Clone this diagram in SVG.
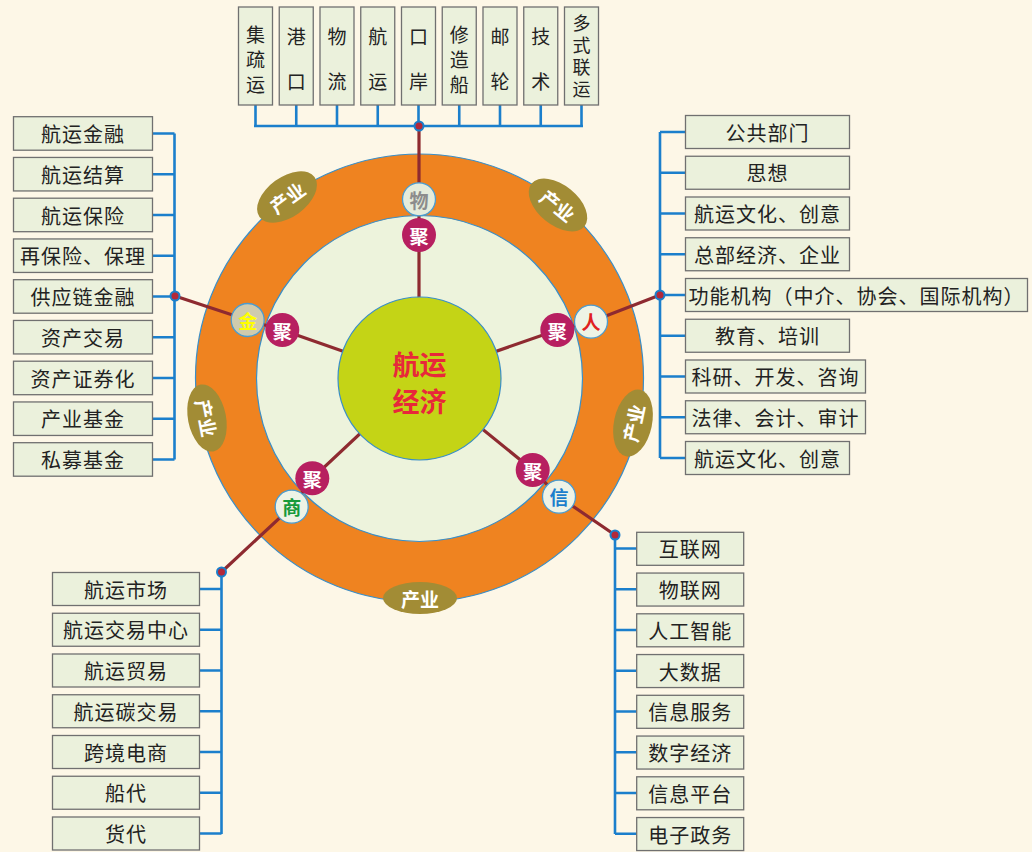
<svg xmlns="http://www.w3.org/2000/svg" width="1032" height="852" viewBox="0 0 1032 852">
<style>
text{font-family:"Noto Sans CJK SC","Noto Sans CJK JP",sans-serif;}
.box{fill:#ebf1dc;stroke:#707070;stroke-width:1.3;}
.bt{font-size:20px;fill:#222;text-anchor:middle;dominant-baseline:central;letter-spacing:1px;}
.vt{font-size:19px;fill:#222;text-anchor:middle;dominant-baseline:central;}
.vm{font-size:18px;fill:#222;writing-mode:vertical-rl;text-anchor:middle;dominant-baseline:central;letter-spacing:4px;}
.blue{stroke:#1b7fcc;stroke-width:2.6;fill:none;}
.red{stroke:#8e2a30;stroke-width:3.2;fill:none;}
.dot{fill:#b3283a;stroke:#1b7fcc;stroke-width:2;}
.ju{fill:#b71f60;}
.jut{font-size:19px;font-weight:bold;fill:#fff;text-anchor:middle;dominant-baseline:central;}
.sc{stroke:#4a9cd0;stroke-width:1.3;}
.sct{font-size:19px;font-weight:bold;text-anchor:middle;dominant-baseline:central;}
.cy{fill:#a28c35;}
.cyt{font-size:19px;font-weight:bold;fill:#fff;text-anchor:middle;dominant-baseline:central;}
.ct{font-size:27px;font-weight:bold;fill:#e8283a;text-anchor:middle;dominant-baseline:central;}
</style>
<rect x="0" y="0" width="1032" height="852" fill="#fdf7e7"/>

<g id="rings">
<circle cx="419.5" cy="378" r="224" fill="#ef8320" stroke="#3a8fc8" stroke-width="1.2"/>
<g transform="translate(287,197) rotate(-36)"><ellipse class="cy" rx="34" ry="20"/><text class="cyt" x="0" y="0">产业</text></g>
<g transform="translate(558,205) rotate(39)"><ellipse class="cy" rx="34" ry="20"/><text class="cyt" x="0" y="0">产业</text></g>
<g transform="translate(207,418) rotate(79)"><ellipse class="cy" rx="34" ry="19"/><text class="cyt" x="0" y="0">产业</text></g>
<g transform="translate(633,423) rotate(-78)"><ellipse class="cy" rx="34" ry="19"/><text class="cyt" x="0" y="0">产业</text></g>
<g transform="translate(420,598)"><ellipse class="cy" rx="37" ry="16"/><text class="cyt" x="0" y="0">产业</text></g>
<circle cx="419.5" cy="378.5" r="163" fill="#edf3dc" stroke="#3a8fc8" stroke-width="1.2"/>
</g>

<g id="connectors">
<path class="blue" d="M255.5,105V126M296.25,105V126M337,105V126M377.75,105V126M418.5,105V126M459.25,105V126M500,105V126M540.75,105V126M581.5,105V126M254,126H583"/>
<path class="blue" d="M174.5,133.5V459.5M152.5,133.5H174.5M152.5,174.25H174.5M152.5,215H174.5M152.5,255.75H174.5M152.5,296.5H174.5M152.5,337.25H174.5M152.5,378H174.5M152.5,418.75H174.5M152.5,459.5H174.5"/>
<path class="blue" d="M660,132V458M660,132H685.5M660,172.75H685.5M660,213.5H685.5M660,254.25H685.5M660,295H685.5M660,335.75H685.5M660,376.5H685.5M660,417.25H685.5M660,458H685.5"/>
<path class="blue" d="M221.5,572V834M199.5,589H221.5M199.5,629.75H221.5M199.5,670.5H221.5M199.5,711.25H221.5M199.5,752H221.5M199.5,792.75H221.5M199.5,833.5H221.5"/>
<path class="blue" d="M615,535V834M615,548.5H636.7M615,589.25H636.7M615,630H636.7M615,670.75H636.7M615,711.5H636.7M615,752.25H636.7M615,793H636.7M615,833.75H636.7"/>
<path class="red" d="M419,126V378"/>
<path class="red" d="M175,296L247.7,320L282.3,330L419.5,378"/>
<path class="red" d="M660,295L591,321.7L557.3,330L419.5,378"/>
<path class="red" d="M615,535L559,496.7L532.7,470L419.5,378"/>
<path class="red" d="M221.5,572L291.7,506.7L312.3,478.3L419.5,378"/>
<circle class="dot" cx="419" cy="126" r="4.5"/>
<circle class="dot" cx="175" cy="296" r="4.5"/>
<circle class="dot" cx="660" cy="295" r="4.5"/>
<circle class="dot" cx="221.5" cy="572" r="4.5"/>
<circle class="dot" cx="615" cy="535" r="4.5"/>
</g>

<g id="center">
<circle cx="419.5" cy="378.5" r="81.5" fill="#c4d416" stroke="#3a8fc8" stroke-width="1.2"/>
<text class="ct" x="419.5" y="363">航运</text>
<text class="ct" x="419.5" y="400">经济</text>
</g>

<g id="ju-nodes">
<circle class="ju" cx="419" cy="235" r="17"/><text class="jut" x="419" y="235">聚</text>
<circle class="ju" cx="282.3" cy="330" r="17"/><text class="jut" x="282.3" y="330">聚</text>
<circle class="ju" cx="557.3" cy="330" r="17"/><text class="jut" x="557.3" y="330">聚</text>
<circle class="ju" cx="312.3" cy="478.3" r="17"/><text class="jut" x="312.3" y="478.3">聚</text>
<circle class="ju" cx="532.7" cy="470" r="17"/><text class="jut" x="532.7" y="470">聚</text>
</g>
<g id="wu"><circle class="sc" cx="419" cy="199.3" r="16.5" fill="#e5ecdb"/><text class="sct" x="419" y="199.3" fill="#8c8c8c">物</text></g>
<g id="jin"><circle class="sc" cx="247.7" cy="320" r="16.5" fill="#cfcbae"/><text class="sct" x="247.7" y="320" fill="#ffff00">金</text></g>
<g id="ren"><circle class="sc" cx="591" cy="321.7" r="16.5" fill="#eef3e6"/><text class="sct" x="591" y="321.7" fill="#e02020">人</text></g>
<g id="shang"><circle class="sc" cx="291.7" cy="506.7" r="16.5" fill="#eef3e6"/><text class="sct" x="291.7" y="506.7" fill="#179a3a">商</text></g>
<g id="xin"><circle class="sc" cx="559" cy="496.7" r="16.5" fill="#eef3e6"/><text class="sct" x="559" y="496.7" fill="#1b7fcc">信</text></g>

<g id="top-boxes">
<rect class="box" x="238.5" y="7" width="34" height="98"/><text class="vt" x="255.5" y="33">集</text><text class="vt" x="255.5" y="58">疏</text><text class="vt" x="255.5" y="83">运</text>
<rect class="box" x="279.25" y="7" width="34" height="98"/><text class="vt" x="296.25" y="35">港</text><text class="vt" x="296.25" y="80">口</text>
<rect class="box" x="320" y="7" width="34" height="98"/><text class="vt" x="337" y="35">物</text><text class="vt" x="337" y="80">流</text>
<rect class="box" x="360.75" y="7" width="34" height="98"/><text class="vt" x="377.75" y="35">航</text><text class="vt" x="377.75" y="80">运</text>
<rect class="box" x="401.5" y="7" width="34" height="98"/><text class="vt" x="418.5" y="35">口</text><text class="vt" x="418.5" y="80">岸</text>
<rect class="box" x="442.25" y="7" width="34" height="98"/><text class="vt" x="459.25" y="33">修</text><text class="vt" x="459.25" y="58">造</text><text class="vt" x="459.25" y="83">船</text>
<rect class="box" x="483" y="7" width="34" height="98"/><text class="vt" x="500" y="35">邮</text><text class="vt" x="500" y="80">轮</text>
<rect class="box" x="523.75" y="7" width="34" height="98"/><text class="vt" x="540.75" y="35">技</text><text class="vt" x="540.75" y="80">术</text>
<rect class="box" x="564.5" y="7" width="34" height="98"/><text class="vm" x="581.5" y="58">多式联运</text>
</g>

<g id="left-boxes">
<rect class="box" x="13.5" y="116.7" width="139" height="33.5"/><text class="bt" x="83" y="133.5">航运金融</text>
<rect class="box" x="13.5" y="157.45" width="139" height="33.5"/><text class="bt" x="83" y="174.25">航运结算</text>
<rect class="box" x="13.5" y="198.2" width="139" height="33.5"/><text class="bt" x="83" y="215">航运保险</text>
<rect class="box" x="13.5" y="238.95" width="139" height="33.5"/><text class="bt" x="83" y="255.75">再保险、保理</text>
<rect class="box" x="13.5" y="279.7" width="139" height="33.5"/><text class="bt" x="83" y="296.5">供应链金融</text>
<rect class="box" x="13.5" y="320.45" width="139" height="33.5"/><text class="bt" x="83" y="337.25">资产交易</text>
<rect class="box" x="13.5" y="361.2" width="139" height="33.5"/><text class="bt" x="83" y="378">资产证券化</text>
<rect class="box" x="13.5" y="401.95" width="139" height="33.5"/><text class="bt" x="83" y="418.75">产业基金</text>
<rect class="box" x="13.5" y="442.7" width="139" height="33.5"/><text class="bt" x="83" y="459.5">私募基金</text>
</g>

<g id="right-boxes">
<rect class="box" x="685.5" y="115.5" width="164" height="33"/><text class="bt" x="767.5" y="132">公共部门</text>
<rect class="box" x="685.5" y="156.25" width="164" height="33"/><text class="bt" x="767.5" y="172.75">思想</text>
<rect class="box" x="685.5" y="197" width="164" height="33"/><text class="bt" x="767.5" y="213.5">航运文化、创意</text>
<rect class="box" x="685.5" y="237.75" width="164" height="33"/><text class="bt" x="767.5" y="254.25">总部经济、企业</text>
<rect class="box" x="685.5" y="278.5" width="342" height="33"/><text class="bt" x="856.5" y="295" letter-spacing="0.5">功能机构（中介、协会、国际机构）</text>
<rect class="box" x="685.5" y="319.25" width="164" height="33"/><text class="bt" x="767.5" y="335.75">教育、培训</text>
<rect class="box" x="685.5" y="360" width="180" height="33"/><text class="bt" x="775.5" y="376.5">科研、开发、咨询</text>
<rect class="box" x="685.5" y="400.75" width="180" height="33"/><text class="bt" x="775.5" y="417.25">法律、会计、审计</text>
<rect class="box" x="685.5" y="441.5" width="164" height="33"/><text class="bt" x="767.5" y="458">航运文化、创意</text>
</g>

<g id="bottom-left-boxes">
<rect class="box" x="52.5" y="572.5" width="147" height="33"/><text class="bt" x="126" y="589">航运市场</text>
<rect class="box" x="52.5" y="613.25" width="147" height="33"/><text class="bt" x="126" y="629.75">航运交易中心</text>
<rect class="box" x="52.5" y="654" width="147" height="33"/><text class="bt" x="126" y="670.5">航运贸易</text>
<rect class="box" x="52.5" y="694.75" width="147" height="33"/><text class="bt" x="126" y="711.25">航运碳交易</text>
<rect class="box" x="52.5" y="735.5" width="147" height="33"/><text class="bt" x="126" y="752">跨境电商</text>
<rect class="box" x="52.5" y="776.25" width="147" height="33"/><text class="bt" x="126" y="792.75">船代</text>
<rect class="box" x="52.5" y="817" width="147" height="33"/><text class="bt" x="126" y="833.5">货代</text>
</g>

<g id="bottom-right-boxes">
<rect class="box" x="636.7" y="532.3" width="107" height="33"/><text class="bt" x="690.2" y="548.8">互联网</text>
<rect class="box" x="636.7" y="573.05" width="107" height="33"/><text class="bt" x="690.2" y="589.55">物联网</text>
<rect class="box" x="636.7" y="613.8" width="107" height="33"/><text class="bt" x="690.2" y="630.3">人工智能</text>
<rect class="box" x="636.7" y="654.55" width="107" height="33"/><text class="bt" x="690.2" y="671.05">大数据</text>
<rect class="box" x="636.7" y="695.3" width="107" height="33"/><text class="bt" x="690.2" y="711.8">信息服务</text>
<rect class="box" x="636.7" y="736.05" width="107" height="33"/><text class="bt" x="690.2" y="752.55">数字经济</text>
<rect class="box" x="636.7" y="776.8" width="107" height="33"/><text class="bt" x="690.2" y="793.3">信息平台</text>
<rect class="box" x="636.7" y="817.55" width="107" height="33"/><text class="bt" x="690.2" y="834.05">电子政务</text>
</g>
</svg>
